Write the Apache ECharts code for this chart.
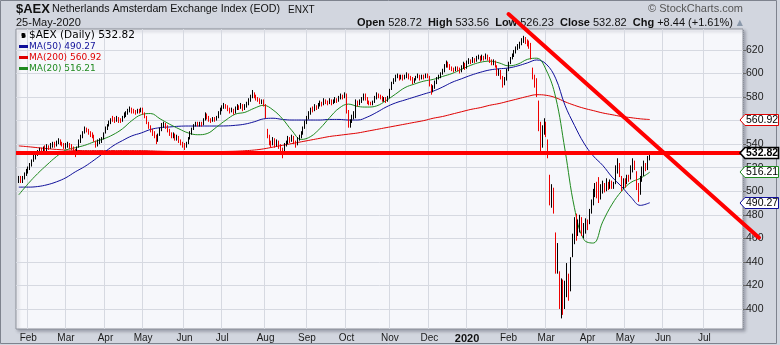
<!DOCTYPE html>
<html><head><meta charset="utf-8">
<script src="https://cdn.jsdelivr.net/npm/echarts@6/dist/echarts.min.js"></script>
<style>html,body{margin:0;padding:0;background:#e9ebef;}#c{width:780px;height:345px;}</style>
</head><body><div id="c"></div>
<script>
// ---------- DATA ----------
// candles: [open, close, low, high]
const ohlcJan2019 = [[509,511,507,513],[512,509,507,513],[508,512,507,513],[512,514,510,516],[515,517,513,519]];
const ohlcFeb2019 = [[517,519,515,521],[520,523,518,524],[523,526,521,527],[526,529,525,531],[529,532,527,533],[531,533,530,535],[533,535,531,537],[536,534,532,537],[534,537,533,538],[537,536,534,539],[536,538,534,540],[538,537,535,539],[537,539,536,541],[539,540,537,542],[541,539,537,542],[539,541,538,543],[541,543,540,545],[543,541,539,544],[541,540,538,542],[540,538,536,541]];
const ohlcMar2019 = [[538,539,536,541],[539,540,537,542],[540,538,536,541],[538,537,535,540],[537,536,533,538],[535,531,529,536],[532,537,531,538],[538,542,537,544],[542,546,541,548],[547,550,545,551],[550,553,549,555],[553,552,550,554],[552,550,548,553],[550,548,546,551],[549,547,545,550],[547,544,542,548],[542,539,537,543],[540,542,538,544],[542,543,540,545],[543,545,541,546],[546,548,544,550]];
const ohlcApr2019 = [[550,553,549,555],[553,556,552,557],[556,558,555,560],[558,560,557,562],[562,561,559,564],[562,560,558,563],[560,562,559,564],[562,559,558,563],[561,560,558,562],[560,563,559,564],[563,565,562,567],[565,566,563,568],[566,568,565,570],[568,570,567,572],[570,569,566,571],[569,568,566,570],[568,567,565,569],[567,569,566,570],[569,568,566,570],[568,570,567,571]];
const ohlcMay2019 = [[570,566,565,571],[566,564,562,567],[563,559,557,564],[558,556,553,559],[555,552,550,556],[551,550,547,553],[550,548,545,551],[547,543,540,548],[543,547,542,549],[548,552,547,554],[552,556,551,558],[556,557,554,559],[557,555,553,558],[555,552,550,556],[552,549,547,553],[549,547,545,550],[547,548,545,550],[548,545,543,549],[545,546,543,548],[546,543,541,547],[543,541,539,544],[541,540,537,542]];
const ohlcJun2019 = [[540,538,535,541],[538,540,537,542],[541,545,540,546],[545,549,544,551],[549,553,548,554],[553,556,552,557],[556,557,555,559],[558,556,555,559],[556,558,555,559],[558,557,555,559],[557,561,556,562],[561,565,560,567],[565,563,561,566],[563,561,559,564],[561,560,558,562],[560,562,559,563],[562,561,559,563],[561,563,560,564],[563,566,562,568],[566,569,565,571]];
const ohlcJul2019 = [[570,571,568,573],[571,573,570,575],[573,572,570,574],[572,570,568,573],[570,568,566,571],[568,569,567,571],[569,567,565,570],[567,570,566,572],[570,572,569,574],[572,571,569,573],[571,573,570,575],[573,570,568,574],[570,572,569,574],[572,574,571,576],[574,577,573,579],[577,580,576,582],[580,583,579,586],[583,581,579,584],[581,579,577,582],[579,578,576,580],[578,576,574,579],[576,577,574,578],[577,574,572,578]];
const ohlcAug2019 = [[573,564,562,574],[552,547,545,553],[546,541,539,548],[541,540,537,543],[540,544,539,546],[544,539,537,545],[539,542,538,544],[542,538,536,543],[538,536,534,540],[536,532,528,537],[533,539,532,541],[539,541,538,543],[541,545,540,547],[545,543,541,546],[543,546,542,548],[546,542,540,547],[541,540,537,543],[540,544,539,546],[544,546,543,548],[546,549,545,551],[549,553,548,555],[554,558,553,560]];
const ohlcSep2019 = [[558,562,557,564],[562,566,561,568],[566,570,565,571],[570,569,567,572],[569,572,568,574],[572,571,569,573],[571,573,570,575],[573,575,572,577],[575,574,572,576],[574,577,573,579],[577,576,574,578],[576,575,573,577],[575,577,574,579],[577,575,573,578],[575,576,574,578],[576,578,575,580],[578,577,575,579],[577,579,576,581],[579,581,578,583],[581,580,578,582],[580,582,579,584]];
const ohlcOct2019 = [[582,568,566,583],[567,556,554,569],[556,559,554,561],[559,563,558,565],[562,566,561,568],[564,576,562,578],[575,574,572,577],[574,576,573,578],[576,578,575,580],[578,582,577,583],[582,579,577,583],[579,576,574,580],[576,575,573,577],[575,574,573,576],[574,576,573,577],[576,579,575,581],[579,582,578,584],[582,581,579,583],[581,580,578,582],[580,578,576,581],[578,579,576,580],[579,577,575,580],[577,579,576,581]];
const ohlcNov2019 = [[580,586,579,587],[587,592,586,593],[592,594,591,596],[594,597,593,599],[597,598,596,600],[598,596,594,599],[596,598,595,599],[598,596,594,599],[596,597,595,599],[597,599,596,601],[599,597,595,600],[597,596,594,598],[596,593,591,597],[593,595,592,596],[595,597,594,598],[597,598,596,600],[598,596,594,599],[596,598,595,599],[598,597,595,599],[597,599,596,600],[599,598,596,600]];
const ohlcDec2019 = [[597,591,589,598],[590,585,582,591],[586,588,584,590],[588,592,587,594],[592,596,591,597],[596,597,595,599],[597,599,596,601],[600,602,599,604],[602,606,601,608],[606,609,605,611],[609,607,605,610],[607,605,603,608],[605,604,602,606],[604,603,601,605],[603,605,602,606],[605,604,602,606],[604,602,600,605],[602,605,601,607],[605,608,604,610],[608,604,603,609]];
const ohlcJan2020 = [[605,609,604,611],[609,611,608,613],[611,610,608,612],[610,612,609,614],[612,611,609,613],[611,613,610,615],[613,614,612,616],[614,612,610,615],[612,614,611,616],[614,613,611,615],[613,615,612,617],[615,613,611,616],[613,611,609,614],[611,609,607,612],[609,610,607,612],[610,607,605,611],[606,600,598,607],[600,602,598,604],[602,597,595,603],[597,591,588,598],[591,595,590,597],[595,603,594,604]];
const ohlcFeb2020 = [[603,609,602,610],[609,613,608,614],[613,615,612,617],[615,618,614,620],[618,621,617,623],[621,623,620,625],[623,625,621,627],[625,628,624,630],[628,630,626,632],[630,627,625,631],[627,626,623,629],[626,623,621,628],[624,614,612,626],[604,598,595,605],[597,590,588,599],[593,584,580,596],[576,560,551,577],[557,540,531,559],[540,552,537,556],[550,558,548,562]];
const ohlcMar2020 = [[558,549,546,559],[543,536,528,544],[513,495,488,514],[492,500,486,506],[500,485,481,503],[462,436,430,465],[438,446,430,456],[430,412,400,432],[410,420,392,426],[418,405,395,425],[405,418,400,424],[420,425,410,439],[427,412,407,430],[418,440,415,444],[445,455,444,464],[458,470,455,478],[472,462,458,481],[465,472,462,476],[468,476,465,480],[476,466,462,478],[465,470,460,473],[468,474,464,477]];
const ohlcApr2020 = [[474,470,467,476],[474,482,472,485],[482,490,481,493],[490,498,488,502],[496,502,495,507],[505,497,494,508],[510,493,490,512],[495,503,493,506],[500,505,498,509],[505,501,499,507],[501,507,500,511],[507,503,501,508],[503,508,502,510],[508,504,502,509],[504,506,502,508],[507,518,506,522],[516,525,515,528],[523,515,512,524],[512,505,500,513],[504,509,502,511]];
const ohlcMay2020 = [[509,508,503,511],[508,512,506,514],[512,510,508,514],[511,519,510,522],[518,525,516,528],[525,520,518,526],[516,506,501,517],[505,498,491,507],[499,510,497,513],[510,517,508,521],[515,522,513,526],[522,519,517,524],[519,524.38,518,530],[528.72,532.82,526.23,533.56]];

// moving averages, read every 5th trading day from the first candle
const ma50Samples = [503.5,503.5,504,505.5,508,511.5,516.5,521,526.5,532.5,538.5,543,547,549.5,552.5,554,554.6,555.2,555.4,555.4,555.4,555.4,555.5,556,557,559,561.5,562,561,560.5,560.5,560.5,560.5,561,561,560.5,560.5,563,567,571.5,575,577.5,580,582.5,585,588.5,592.5,595.5,598.5,601,603,604,604.7,606.5,609,611.5,608,596,573,556,541,530,522,512,504,495,488,490.27];
const ma200Samples = [538.5,537.8,537,536.2,535.5,535,534.7,534.5,534.5,534.5,534.5,534.5,534.5,534.5,534.3,534,533.8,533.7,533.6,533.6,533.6,533.7,533.8,534,534.4,535,536,537.5,539,540.5,542,543.5,545,546.5,547.5,548.5,549.5,551,552.5,554,555.5,557,558.5,560,562,563.5,565.5,567.5,569.5,571,573,574.5,576.5,578.5,580.5,582,581.5,579.5,576,573,570.5,568.5,566.5,565,563.5,562.5,561.5,560.92];
const ma20Samples = [497,506.5,515,522.5,529.5,535,537,539,542,544.5,548,553,560,565,566,561.5,557,553,549.5,548,549,554.5,560.5,565.5,567,570.5,573,569,561.5,551.5,544,546.5,553.5,562.5,570.5,574,572,571.5,572.5,577,582.5,588,591,593.5,595,597.5,600,603.5,607,609.5,610.5,609,606.5,608,612,613,603,580,535,486,459,456,474,489,500,507.5,511,516.21];
const maStep = 5;

const yTicks = [400,420,440,460,480,500,520,540,560,580,600,620];
const monthNames = ['Jan','Feb','Mar','Apr','May','Jun','Jul','Aug','Sep','Oct','Nov','Dec'];
const holidays = ['2019-04-19','2019-04-22','2019-05-01','2019-12-25','2019-12-26','2020-01-01','2020-04-10','2020-04-13','2020-05-01'];
const axisFirstDay = '2019-01-24', axisLastDay = '2020-07-29', dataFirstDay = '2019-01-25';
const headerDate = '25-May-2020';
// trend line annotation (category position, price)
const trendLine = {startIndex: 261, startValue: 650.5, endIndex: 394, endValue: 460.5};

// ---------- BUILD ----------
const ohlc = [].concat(ohlcJan2019, ohlcFeb2019, ohlcMar2019, ohlcApr2019, ohlcMay2019, ohlcJun2019, ohlcJul2019, ohlcAug2019, ohlcSep2019, ohlcOct2019, ohlcNov2019, ohlcDec2019, ohlcJan2020, ohlcFeb2020, ohlcMar2020, ohlcApr2020, ohlcMay2020);

const days = [];
(function(){
  let t = Date.parse(axisFirstDay + 'T00:00:00Z'); const end = Date.parse(axisLastDay + 'T00:00:00Z');
  while (t <= end) { const d = new Date(t); const wd = d.getUTCDay(); const s = d.toISOString().slice(0,10);
    if (wd !== 0 && wd !== 6 && holidays.indexOf(s) < 0) days.push(s); t += 86400000; }
})();
const start = days.indexOf(dataFirstDay);
const monthStart = new Set();
for (let i = 1; i < days.length; i++) if (days[i].slice(5,7) !== days[i-1].slice(5,7)) monthStart.add(i);

const candleData = days.map((d,i) => { const k = i - start; return (k >= 0 && k < ohlc.length) ? ohlc[k] : '-'; });
function sparse(samples){ const a = days.map(() => null); samples.forEach((v,k) => { a[start + k*maStep] = v; }); return a; }

const last = ohlc[ohlc.length-1], prevClose = ohlc[ohlc.length-2][1];
const lastClose = last[1];
const chg = lastClose - prevClose, chgPct = chg / prevClose * 100;
const lastMA50 = ma50Samples[ma50Samples.length-1], lastMA200 = ma200Samples[ma200Samples.length-1], lastMA20 = ma20Samples[ma20Samples.length-1];

const C_UP = '#000000', C_DN = '#ee0000', C_MA50 = '#10109a', C_MA200 = '#e00000', C_MA20 = '#1f8a1f';
const FONT = '"Liberation Sans", Arial, sans-serif';
const LFONT = '"DejaVu Sans", Verdana, sans-serif';

const chart = echarts.init(document.getElementById('c'));
const names = {aex:'$AEX (Daily)', m50:'MA(50)', m200:'MA(200)', m20:'MA(20)'};
const legendVal = {}; legendVal[names.aex]=lastClose; legendVal[names.m50]=lastMA50; legendVal[names.m200]=lastMA200; legendVal[names.m20]=lastMA20;

chart.setOption({
  animation:false,
  backgroundColor:'#d2d6df',
  grid:{left:16, right:37, top:29, bottom:16, show:true, backgroundColor:'#f6f7fb', borderColor:'#8c909a', borderWidth:1,
    shadowColor:'rgba(60,64,80,0.35)', shadowBlur:3, shadowOffsetX:2, shadowOffsetY:2},
  xAxis:{type:'category', data:days, boundaryGap:true,
    axisLine:{show:false}, axisTick:{show:false},
    axisLabel:{interval:(i)=>monthStart.has(i), margin:4, color:'#1a1a1a', fontSize:10, fontFamily:FONT,
      formatter:(v)=>{ const m = +v.slice(5,7)-1; return m === 0 ? '{yr|' + v.slice(0,4) + '}' : monthNames[m]; },
      rich:{yr:{fontWeight:'bold', fontSize:11, fontFamily:FONT, color:'#111'}}},
    splitLine:{show:true, interval:(i)=>monthStart.has(i), lineStyle:{color:'#d6d9e1', width:1}}},
  yAxis:{type:'value', position:'right', min:383, max:637.8,
    axisLine:{show:true, lineStyle:{color:'#8c909a', type:'dotted'}},
    axisTick:{show:true, length:3, customValues:yTicks, lineStyle:{color:'#666'}},
    axisLabel:{customValues:yTicks, margin:3, color:'#1a1a1a', fontSize:10.5, fontFamily:FONT},
    splitLine:{show:true, lineStyle:{color:'#d6d9e1', width:1}}},
  legend:{orient:'vertical', left:18, top:29, itemGap:0, itemWidth:9, itemHeight:3, padding:[1,2,1,1],
    textStyle:{fontFamily:LFONT, fontSize:9, lineHeight:11, padding:[0,0,0,-4]},
    formatter:(n)=> n + ' ' + legendVal[n].toFixed(2),
    data:[{name:names.aex, icon:'path://M1,0h1v10h-1zM0,2h1v1h-1zM2,7h1v1h-1zM5,1h1v8h-1zM4,3h1v1h-1zM6,6h1v1h-1z', itemWidth:9, itemHeight:9, textStyle:{color:'#000', fontSize:10.5}},
          {name:names.m50, icon:'rect', textStyle:{color:C_MA50}},
          {name:names.m200, icon:'rect', textStyle:{color:C_MA200}},
          {name:names.m20, icon:'rect', textStyle:{color:C_MA20}}]},
  series:[
    {name:names.m200, type:'line', data:sparse(ma200Samples), connectNulls:true, smooth:0.4, showSymbol:false, symbol:'none', color:C_MA200, lineStyle:{width:1, color:C_MA200}, z:2},
    {name:names.m50, type:'line', data:sparse(ma50Samples), connectNulls:true, smooth:0.4, showSymbol:false, symbol:'none', color:C_MA50, lineStyle:{width:1, color:C_MA50}, z:2},
    {name:names.m20, type:'line', data:sparse(ma20Samples), connectNulls:true, smooth:0.4, showSymbol:false, symbol:'none', color:C_MA20, lineStyle:{width:1, color:C_MA20}, z:2},
    {name:names.aex, type:'candlestick', data:candleData, barWidth:1, z:3,
      itemStyle:{color:C_UP, color0:C_DN, borderColor:C_UP, borderColor0:C_DN, borderWidth:1},
      markLine:{silent:true, symbol:'none', animation:false, z:10, data:[{yAxis:lastClose}],
        lineStyle:{color:'#ff0000', width:4, type:'solid'}, label:{show:false}}}
  ]
});

// ---------- annotations placed through the chart's own scales ----------
const toPx = (idx, v) => chart.convertToPixel({seriesIndex:3}, [idx, v]);
const p1 = toPx(trendLine.startIndex, trendLine.startValue);
const p2 = toPx(trendLine.endIndex, trendLine.endValue);
const plotRect = chart.getModel().getComponent('grid').coordinateSystem.getRect();
const gx = plotRect.x + plotRect.width;

const flags = [
  {value:lastMA200, color:C_MA200, bold:false},
  {value:lastMA20, color:C_MA20, bold:false},
  {value:lastMA50, color:C_MA50, bold:false},
  {value:lastClose, color:'#000000', bold:true}
];
const graphics = [
  {type:'rect', z:0, silent:true, shape:{x:0.5, y:0.5, width:776, height:343}, style:{fill:'none', stroke:'#7e838e', lineWidth:1}},
  {type:'text', left:16, top:3, style:{text:'$AEX', font:'bold 13px ' + FONT, fill:'#111'}},
  {type:'text', left:52, top:4, style:{text:'Netherlands Amsterdam Exchange Index (EOD)', font:'10.7px ' + FONT, fill:'#111'}},
  {type:'text', left:288, top:5, style:{text:'ENXT', font:'10px ' + FONT, fill:'#111'}},
  {type:'text', left:16, top:17, style:{text:headerDate, font:'11px ' + FONT, fill:'#111'}},
  {type:'text', right:47, top:17, style:{
    text:'{b|Open} ' + last[0].toFixed(2) + '  {b|High} ' + last[3].toFixed(2) + '  {b|Low} ' + last[2].toFixed(2) + '  {b|Close} ' + lastClose.toFixed(2) + '  {b|Chg} ' + (chg>=0?'+':'') + chg.toFixed(2) + ' (' + (chg>=0?'+':'') + chgPct.toFixed(2) + '%)',
    font:'11px ' + FONT, fill:'#111', rich:{b:{fontWeight:'bold', fontSize:11, fontFamily:FONT, fill:'#111'}}}},
  {type:'text', right:37, top:19, style:{text:'\u25B2', font:'8px ' + LFONT, fill:'#8a98aa'}},
  {type:'text', right:37, top:3, style:{text:'\u00A9 StockCharts.com', font:'11px ' + FONT, fill:'#555'}},
  {type:'line', z:200, silent:true, shape:{x1:p1[0], y1:p1[1], x2:p2[0], y2:p2[1]}, style:{stroke:'#ff0000', lineWidth:4, lineCap:'round'}}
];
flags.forEach((f, n) => {
  const y = Math.round(toPx(0, f.value)[1]);
  const top = y - 5.5, bot = y + 5.5, tip = gx - 3, bx = gx + 2, rx = 778.5;
  graphics.push({type:'polygon', z:300 + n, silent:true, shape:{points:[[tip, y], [bx, top], [rx, top], [rx, bot], [bx, bot]]},
    style:{fill:'#ffffff', stroke:f.color, lineWidth: f.bold ? 1.6 : 1}});
  graphics.push({type:'text', z:310 + n, silent:true, x:gx + 3, y:y + 0.5,
    style:{text:f.value.toFixed(2), font:(f.bold ? 'bold ' : '') + '10.5px ' + FONT, fill:'#000', textVerticalAlign:'middle', textAlign:'left'}});
});
chart.setOption({graphic:graphics});
</script></body></html>
